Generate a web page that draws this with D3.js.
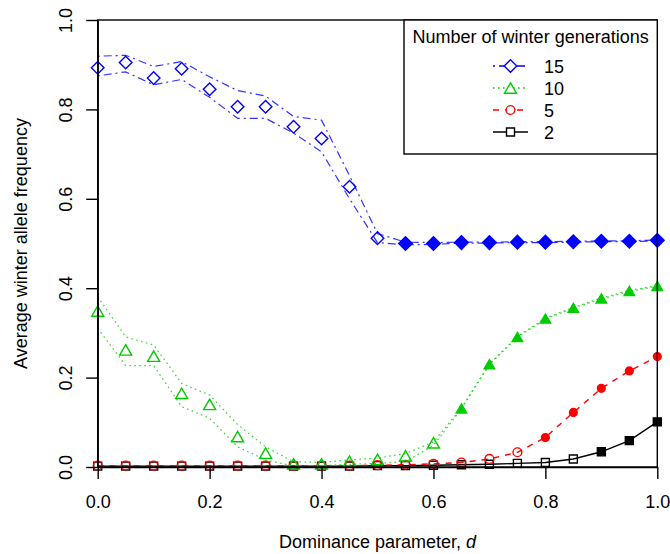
<!DOCTYPE html>
<html>
<head>
<meta charset="utf-8">
<script src="https://cdn.jsdelivr.net/npm/d3@7"></script>
<style>
  body { margin: 0; background: #fff; }
  text { font-family: "Liberation Sans", Arial, sans-serif; }
</style>
</head>
<body>
<script>
// dominance parameter d
var dValues = [0, 0.05, 0.1, 0.15, 0.2, 0.25, 0.3, 0.35, 0.4, 0.45, 0.5,
               0.55, 0.6, 0.65, 0.7, 0.75, 0.8, 0.85, 0.9, 0.95, 1.0];

var gen15 = [0.893, 0.905, 0.870, 0.891, 0.845, 0.806, 0.806, 0.761, 0.735, 0.627, 0.512,
             0.500, 0.500, 0.502, 0.502, 0.503, 0.503, 0.504, 0.505, 0.505, 0.507];
var gen15Upper = [0.919, 0.921, 0.896, 0.907, 0.873, 0.842, 0.830, 0.784, 0.776, 0.652, 0.522,
                  0.503, 0.502, 0.503, 0.503, 0.504, 0.504, 0.505, 0.506, 0.506, 0.508];
var gen15Lower = [0.875, 0.884, 0.855, 0.867, 0.827, 0.780, 0.780, 0.747, 0.705, 0.600, 0.502,
                  0.497, 0.498, 0.501, 0.501, 0.502, 0.502, 0.503, 0.504, 0.504, 0.506];

var gen10 = [0.349, 0.262, 0.248, 0.165, 0.140, 0.068, 0.031, 0.007, 0.007, 0.013, 0.017,
             0.025, 0.054, 0.131, 0.230, 0.291, 0.332, 0.356, 0.377, 0.394, 0.405];
var gen10Upper = [0.381, 0.291, 0.273, 0.187, 0.161, 0.095, 0.045, 0.012, 0.010, 0.016, 0.020,
                  0.030, 0.056, 0.132, 0.231, 0.292, 0.333, 0.357, 0.378, 0.395, 0.406];
var gen10Lower = [0.310, 0.227, 0.227, 0.135, 0.109, 0.045, 0.016, 0.002, 0.003, 0.006, 0.008,
                  0.012, 0.048, 0.130, 0.229, 0.290, 0.331, 0.355, 0.376, 0.393, 0.404];

var gen5 = [0.003, 0.003, 0.003, 0.003, 0.003, 0.003, 0.003, 0.003, 0.003, 0.003, 0.004,
            0.005, 0.007, 0.010, 0.018, 0.033, 0.066, 0.122, 0.176, 0.215, 0.247];

var gen2 = [0.002, 0.002, 0.002, 0.002, 0.002, 0.002, 0.002, 0.002, 0.002, 0.002, 0.003,
            0.003, 0.004, 0.005, 0.006, 0.008, 0.010, 0.018, 0.034, 0.059, 0.101];

// first d at which the markers are drawn filled
var filledFrom = {"15": 0.55, "10": 0.65, "5": 0.8, "2": 0.9};

var yTicks = [0, 0.2, 0.4, 0.6, 0.8, 1.0];
var xTicks = [0, 0.2, 0.4, 0.6, 0.8, 1.0];

var width = 670, height = 554;
var plotLeft = 97.7, plotRight = 657.3, plotTop = 20, plotBottom = 467;

var svg = d3.select("body").append("svg")
    .attr("width", width)
    .attr("height", height);

var x = d3.scaleLinear().domain([0, 1]).range([plotLeft, plotRight]);
var y = d3.scaleLinear().domain([0, 1]).range([plotBottom, plotTop]);

var series = [
    {label: "2", values: gen2, color: "#000000", dash: null, shape: "square"},
    {label: "5", values: gen5, color: "#ff0000", dash: "6,6", shape: "circle"},
    {label: "10", values: gen10, upper: gen10Upper, lower: gen10Lower, color: "#00cd00", dash: "1.6,3.4", shape: "triangle"},
    {label: "15", values: gen15, upper: gen15Upper, lower: gen15Lower, color: "#0000ff", dash: "2,4,8,4", shape: "diamond"}
];

function markerPath(shape, filled) {
    var r;
    if (shape == "diamond") {
        r = filled ? 6.8 : 6.3;
        return "M0," + (-r) + "L" + r + ",0L0," + r + "L" + (-r) + ",0Z";
    }
    if (shape == "triangle") {
        var w = filled ? 10.5 : 12, h = w * Math.sqrt(3) / 2;
        return "M0," + (-h / 2) + "L" + (w / 2) + "," + (h / 2) + "L" + (-w / 2) + "," + (h / 2) + "Z";
    }
    if (shape == "circle") {
        r = filled ? 3.9 : 4.4;
        return "M" + r + ",0A" + r + "," + r + " 0 1,1 " + (-r) + ",0A" + r + "," + r + " 0 1,1 " + r + ",0Z";
    }
    r = 4;
    return "M" + (-r) + "," + (-r) + "H" + r + "V" + r + "H" + (-r) + "Z";
}

var line = d3.line()
    .x(function(d) { return x(d[0]); })
    .y(function(d) { return y(d[1]); });

function pairs(vals) {
    return dValues.map(function(d, i) { return [d, vals[i]]; });
}

// lines
series.forEach(function(s) {
    var sets = s.upper ? [s.upper, s.lower] : [s.values];
    sets.forEach(function(vals) {
        svg.append("path")
            .attr("d", line(pairs(vals)))
            .attr("fill", "none")
            .attr("stroke", s.color)
            .attr("stroke-width", s.upper ? 1.2 : 1.4)
            .attr("stroke-opacity", s.upper ? 0.8 : 1)
            .attr("stroke-dasharray", s.dash);
    });
});

// markers
series.forEach(function(s) {
    pairs(s.values).forEach(function(p) {
        var filled = p[0] >= filledFrom[s.label] - 1e-9;
        svg.append("path")
            .attr("transform", "translate(" + x(p[0]) + "," + y(p[1]) + ")")
            .attr("d", markerPath(s.shape, filled))
            .attr("fill", filled ? s.color : "none")
            .attr("stroke", s.color)
            .attr("stroke-width", 1.4);
    });
});

// box
svg.append("rect")
    .attr("x", plotLeft).attr("y", plotTop)
    .attr("width", plotRight - plotLeft).attr("height", plotBottom - plotTop)
    .attr("fill", "none").attr("stroke", "#000").attr("stroke-width", 1.4);

// axes
var yAxis = svg.append("g")
    .attr("transform", "translate(" + plotLeft + ",0)")
    .call(d3.axisLeft(y).tickValues(yTicks).tickSize(11.5).tickSizeOuter(0).tickFormat(d3.format(".1f")));
yAxis.selectAll("path, line").attr("stroke", "#000").attr("stroke-width", 1.4);
yAxis.selectAll("text")
    .attr("transform", "rotate(-90)")
    .attr("x", 0).attr("y", -25.7).attr("dy", 0)
    .attr("text-anchor", "middle")
    .attr("font-size", 18)
    .attr("font-family", "Liberation Sans, Arial, sans-serif")
    .attr("fill", "#000");

var xAxis = svg.append("g")
    .attr("transform", "translate(0," + plotBottom + ")")
    .call(d3.axisBottom(x).tickValues(xTicks).tickSize(12).tickSizeOuter(0).tickFormat(d3.format(".1f")));
xAxis.selectAll("path, line").attr("stroke", "#000").attr("stroke-width", 1.4);
xAxis.selectAll("text")
    .attr("y", 41).attr("dy", 0)
    .attr("font-size", 18)
    .attr("font-family", "Liberation Sans, Arial, sans-serif")
    .attr("fill", "#000");

// axis titles
var xTitle = svg.append("text")
    .attr("x", (plotLeft + plotRight) / 2).attr("y", 548)
    .attr("text-anchor", "middle")
    .attr("font-size", 18);
xTitle.append("tspan").text("Dominance parameter, ");
xTitle.append("tspan").attr("font-style", "italic").text("d");

svg.append("text")
    .attr("transform", "translate(27," + ((plotTop + plotBottom) / 2) + ") rotate(-90)")
    .attr("text-anchor", "middle")
    .attr("font-size", 18)
    .text("Average winter allele frequency");

// legend
var legendX = 404, legendY = plotTop, legendW = plotRight - 404, legendH = 134;
svg.append("rect")
    .attr("x", legendX).attr("y", legendY)
    .attr("width", legendW).attr("height", legendH)
    .attr("fill", "#fff").attr("stroke", "#000").attr("stroke-width", 1.4);

svg.append("text")
    .attr("x", legendX + legendW / 2).attr("y", 43)
    .attr("text-anchor", "middle")
    .attr("font-size", 18)
    .text("Number of winter generations");

var legendOrder = series.slice().reverse();
legendOrder.forEach(function(s, i) {
    var cy = 66 + i * 22;
    svg.append("line")
        .attr("x1", 493).attr("x2", 528)
        .attr("y1", cy).attr("y2", cy)
        .attr("stroke", s.color)
        .attr("stroke-width", 1.3)
        .attr("stroke-dasharray", s.dash);
    svg.append("path")
        .attr("transform", "translate(510.5," + cy + ")")
        .attr("d", markerPath(s.shape, false))
        .attr("fill", "#fff")
        .attr("stroke", s.color)
        .attr("stroke-width", 1.4);
    svg.append("text")
        .attr("x", 544).attr("y", cy + 7)
        .attr("font-size", 18)
        .text(s.label);
});
</script>
</body>
</html>
